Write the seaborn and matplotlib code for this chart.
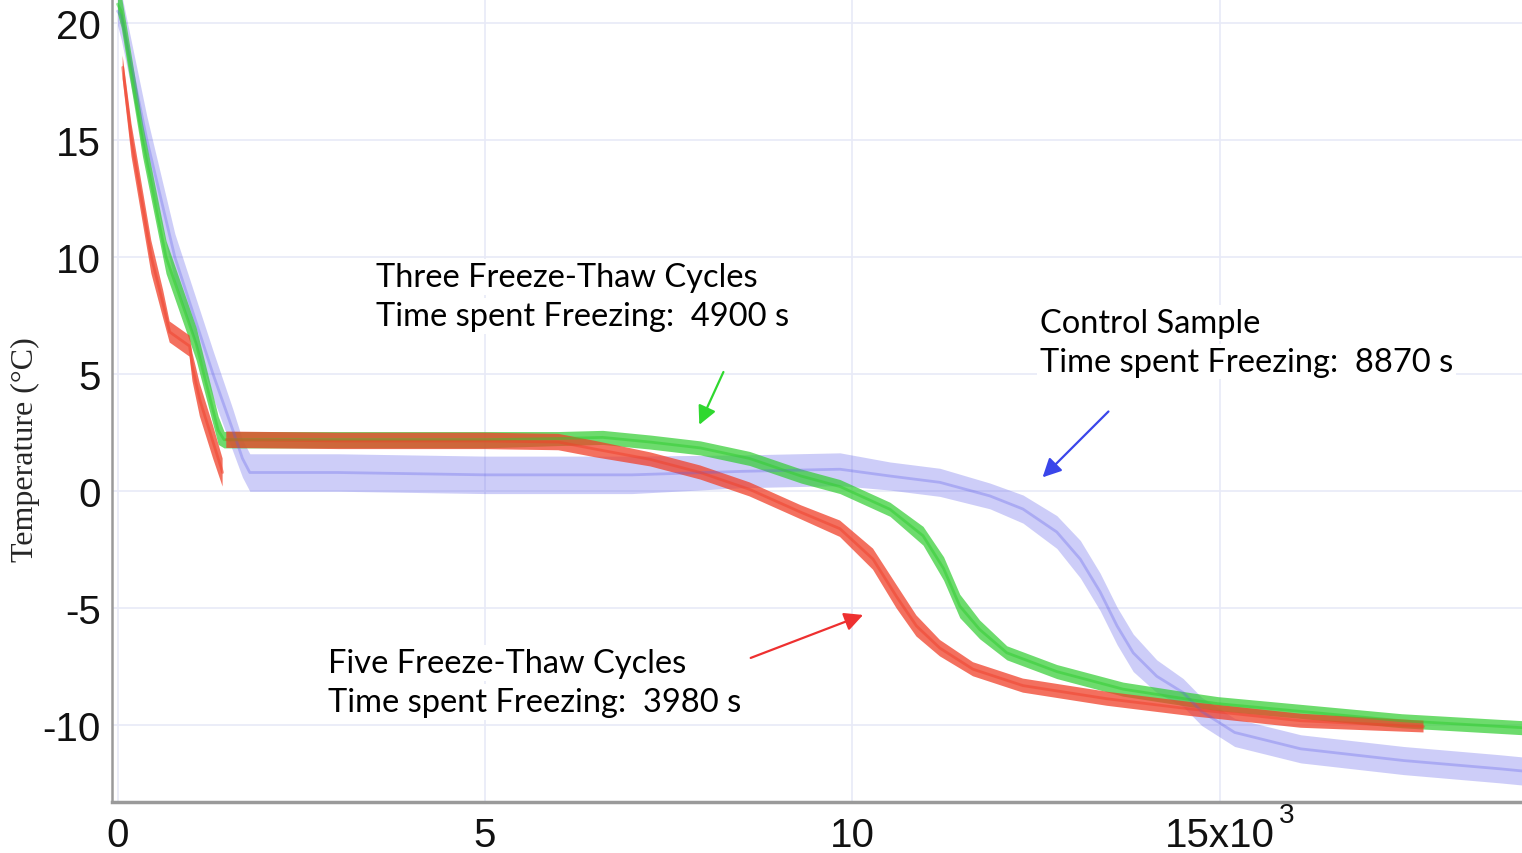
import numpy as np
import pandas as pd
import matplotlib.pyplot as plt
import seaborn as sns

# values (time in s, temperature in degC, band half-width in degC)
control_t = [0, 50, 400, 780, 1300, 1570, 1700, 1800, 3000, 5000, 7000, 8500, 9830, 10510,
             11190, 11870, 12320, 12780, 13100, 13370, 13600, 13820, 14140, 14500, 14750,
             15200, 16100, 17500, 18800, 19130]
control_T = [20.5, 20.3, 15.0, 10.0, 5.0, 2.6, 1.4, 0.8, 0.8, 0.7, 0.7, 0.85, 0.94, 0.65,
             0.38, -0.2, -0.76, -1.74, -2.9, -4.3, -5.75, -6.9, -7.9, -8.6, -9.4,
             -10.3, -11.0, -11.5, -11.85, -11.95]
control_w = [0.6, 1.0, 1.0, 1.0, 1.0, 0.9, 0.8, 0.8, 0.8, 0.8, 0.8, 0.7, 0.7, 0.6,
             0.6, 0.55, 0.6, 0.7, 0.8, 0.8, 0.8, 0.8, 0.7, 0.6, 0.6,
             0.6, 0.6, 0.6, 0.6, 0.6]

three_t = [0, 50, 340, 660, 1070, 1370, 1450, 3000, 5000, 6000, 6600, 7250, 7930, 8600,
           9300, 9830, 10510, 10960, 11240, 11460, 11730, 12100, 12780, 13680, 14600,
           14970, 16100, 17470, 19130]
three_T = [20.8, 20.5, 15.0, 10.0, 6.3, 2.6, 2.2, 2.2, 2.2, 2.25, 2.3, 2.1, 1.85, 1.4,
           0.65, 0.2, -0.77, -1.9, -3.3, -4.9, -5.9, -6.9, -7.7, -8.45, -8.9,
           -9.07, -9.4, -9.8, -10.1]
three_w = [0.4, 0.7, 0.7, 0.7, 0.7, 0.6, 0.35, 0.35, 0.35, 0.3, 0.3, 0.3, 0.3, 0.3,
           0.3, 0.3, 0.3, 0.4, 0.5, 0.5, 0.4, 0.3, 0.3, 0.3, 0.3,
           0.3, 0.3, 0.3, 0.3]

five_t = [70, 190, 460, 620, 710, 980, 1020, 1120, 1300, 1430, np.nan, 1480, 3000, 5000,
          6000, 6500, 7250, 7930, 8600, 9300, 9830, 10280, 10600, 10870, 11190, 11640,
          12320, 13460, 14600, 16100, 17770]
five_T = [18.1, 15.0, 10.0, 8.0, 6.8, 6.2, 5.3, 3.9, 2.1, 0.8, np.nan, 2.2, 2.15, 2.15,
          2.1, 1.8, 1.36, 0.8, 0.08, -0.9, -1.6, -2.9, -4.5, -5.75, -6.7, -7.6,
          -8.3, -8.86, -9.3, -9.8, -10.05]
five_w = [0.5, 0.7, 0.7, 0.6, 0.45, 0.45, 0.6, 0.7, 0.7, 0.6, np.nan, 0.35, 0.35, 0.35,
          0.35, 0.35, 0.3, 0.3, 0.3, 0.3, 0.35, 0.45, 0.5, 0.45, 0.35, 0.3,
          0.3, 0.3, 0.3, 0.3, 0.25]

samples = ['Control', 'Three', 'Five']
colors = {'Control': '#5b5be8', 'Three': '#2fcc2f', 'Five': '#f0402a'}
fill_alpha = {'Control': 0.3, 'Three': 0.7, 'Five': 0.75}
line_alpha = {'Control': 0.3, 'Three': 0.5, 'Five': 0.5}

x_ticks = [0, 5000, 10000, 15000]
x_labels = ['0', '5', '10', '15x10']
y_ticks = [-10, -5, 0, 5, 10, 15, 20]

frames = []
for name, t, T, w in [('Control', control_t, control_T, control_w),
                      ('Three', three_t, three_T, three_w),
                      ('Five', five_t, five_T, five_w)]:
    d = pd.DataFrame({'time': t, 'temp': T, 'half': w, 'sample': name})
    d['seg'] = name + d['time'].isna().cumsum().astype(str)
    frames.append(d)
df = pd.concat(frames, ignore_index=True)

sns.set_style('whitegrid', {'grid.color': '#e8eaf7', 'axes.edgecolor': '#9a9a9a'})
plt.rcParams['font.family'] = ['Liberation Sans', 'DejaVu Sans']
plt.rcParams['axes.unicode_minus'] = False

fig = plt.figure(figsize=(15.22, 8.54), dpi=100)
ax = fig.add_axes([112 / 1522, 51 / 854, 1410 / 1522, 803 / 854])

for name in samples:
    d = df[df['sample'] == name]
    ax.fill_between(d['time'], d['temp'] - d['half'], d['temp'] + d['half'],
                    color=colors[name], alpha=fill_alpha[name], lw=0, zorder=2)
    sns.lineplot(data=d.dropna(), x='time', y='temp', units='seg', estimator=None,
                 color=colors[name], lw=2, alpha=line_alpha[name],
                 sort=False, ax=ax, zorder=3)

ax.set_xlim(-75, 19110)
ax.set_ylim(-13.27, 21.02)
ax.set_xticks(x_ticks)
ax.set_xticklabels(x_labels)
ax.set_yticks(y_ticks)
ax.set_xlabel('')
ax.set_ylabel('')
ax.tick_params(axis='both', direction='in', length=9, width=1.5, color='#9a9a9a',
               labelsize=29, labelcolor='#111111')
ax.tick_params(axis='x', pad=10, length=14)
ax.tick_params(axis='y', pad=8)
for s in ['top', 'right']:
    ax.spines[s].set_visible(False)
ax.spines['left'].set_linewidth(1.8)
ax.spines['bottom'].set_linewidth(2.5)
ax.grid(True, lw=1.2)

ax.text(15800, -0.016, '3', transform=ax.get_xaxis_transform(), fontsize=20,
        ha='left', va='center', color='#111111')

fig.text(25 / 1522, 1 - 450 / 854, 'Temperature (°C)', rotation=90, va='center', ha='center',
         fontsize=23, family=['Liberation Serif', 'DejaVu Serif'])

txt = dict(fontsize=23.5, family=['Lato', 'DejaVu Sans'], color='black', ha='left',
           va='center', zorder=4, bbox=dict(facecolor='white', edgecolor='none', pad=2))
ax.text(3520, 9.16, 'Three Freeze-Thaw Cycles', **txt)
ax.text(3520, 7.50, 'Time spent Freezing:  4900 s', **txt)
ax.text(12550, 7.20, 'Control Sample', **txt)
ax.text(12550, 5.54, 'Time spent Freezing:  8870 s', **txt)
ax.text(2860, -7.33, 'Five Freeze-Thaw Cycles', **txt)
ax.text(2860, -8.99, 'Time spent Freezing:  3980 s', **txt)

arrow = dict(arrowstyle='-|>', lw=1.6, mutation_scale=28)
ax.annotate('', xy=(7900, 2.73), xytext=(8260, 5.20),
            arrowprops=dict(color='#2fd82f', **arrow))
ax.annotate('', xy=(12560, 0.51), xytext=(13510, 3.49),
            arrowprops=dict(color='#3a46ea', **arrow))
ax.annotate('', xy=(10180, -5.24), xytext=(8580, -7.16),
            arrowprops=dict(color='#ee3030', **arrow))

fig.savefig('out.png', dpi=100)
